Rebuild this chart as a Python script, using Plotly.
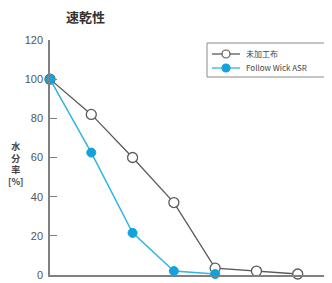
import plotly.graph_objects as go

x_vals = [0, 1, 2, 3, 4, 5, 6]
untreated = [100, 82, 60, 37, 3.5, 2, 0.5]
x_wick = [0, 1, 2, 3, 4]
follow_wick = [100, 62.5, 21.5, 2, 0.5]
y_ticks = [0, 20, 40, 60, 80, 100, 120]
series_names = ["未加工布", "Follow Wick ASR"]

GRAY = "#5a5a5a"
BLUE_LINE = "#30b6e2"
BLUE_MK = "#12a3dc"

# page body has an 8px margin, so the figure is drawn in coordinates shifted by 8px
OFF = 8
W, H = 332 - OFF, 283 - OFF
l, r, t, b = 50 - OFF, 0, 40 - OFF, 8
pw, ph = W - l - r, H - t - b
def px(xs): return (xs - OFF - l) / pw
def py(ys): return (H - b - (ys - OFF)) / ph

fig = go.Figure()
fig.add_trace(go.Scatter(
    x=x_vals, y=untreated, name=series_names[0], mode="lines+markers",
    line=dict(color=GRAY, width=1.3),
    marker=dict(symbol="circle", size=10, color="white", line=dict(color=GRAY, width=1.3)),
    cliponaxis=False, showlegend=False))
fig.add_trace(go.Scatter(
    x=x_wick, y=follow_wick, name=series_names[1], mode="lines+markers",
    line=dict(color=BLUE_LINE, width=1.5),
    marker=dict(symbol="circle", size=9, color=BLUE_MK, line=dict(color=BLUE_MK, width=1)),
    cliponaxis=False, showlegend=False))

shapes = [
    # legend box
    dict(type="rect", xref="paper", yref="paper", x0=px(207), x1=px(327), y0=py(77), y1=py(43),
         line=dict(color="#8a8a8a", width=1), fillcolor="white", layer="above"),
]
annotations = []
for i, (name, lc, mfill, mline) in enumerate([
        (series_names[0], GRAY, "white", GRAY),
        (series_names[1], BLUE_LINE, BLUE_MK, BLUE_MK)]):
    ys = 54 + i * 14
    shapes.append(dict(type="line", xref="paper", yref="paper", x0=px(212), x1=px(240),
                       y0=py(ys), y1=py(ys), line=dict(color=lc, width=1.3), layer="above"))
    shapes.append(dict(type="circle", xref="paper", yref="paper", xsizemode="pixel", ysizemode="pixel",
                       xanchor=px(226), yanchor=py(ys), x0=-4, x1=4, y0=-4, y1=4,
                       fillcolor=mfill, line=dict(color=mline, width=1.2), layer="above"))
    annotations.append(dict(text=name, x=px(244), y=py(ys), xref="paper", yref="paper",
                            xanchor="left", yanchor="middle", showarrow=False,
                            font=dict(size=8, color="#444444")))

annotations += [
    dict(text="<b>速乾性</b>", x=px(85), y=py(16), xref="paper", yref="paper",
         xanchor="center", yanchor="middle",
         showarrow=False, font=dict(size=13, color="#333333")),
    dict(text="<b>水<br>分<br>率<br>[%]</b>", x=px(15), y=py(164), xref="paper", yref="paper",
         xanchor="center", yanchor="middle", showarrow=False,
         font=dict(size=9, color="#444444")),
]

font = "Noto Sans CJK JP, Noto Sans, sans-serif"
fig.update_layout(
    width=W, height=H,
    margin=dict(l=l, r=r, t=t, b=b, autoexpand=False),
    paper_bgcolor="white", plot_bgcolor="white",
    font=dict(family=font, color="#444444"),
    showlegend=False,
    xaxis=dict(range=[0, 6.83], showgrid=False, zeroline=False, automargin=False,
               showline=True, linecolor="#808080", linewidth=1.5,
               showticklabels=False, ticks=""),
    yaxis=dict(range=[0, 120], tickvals=y_ticks, showgrid=False, zeroline=False,
               automargin=False,
               showline=True, linecolor="#808080", linewidth=1.5,
               ticks="inside", ticklen=7, tickcolor="#808080", tickwidth=1.3,
               tickfont=dict(size=11, color="#555555", family="Liberation Sans, Arial, sans-serif"),
               tickprefix="<b>", ticksuffix="</b>",
               ticklabelstandoff=3),
    shapes=shapes,
    annotations=annotations,
)

fig.write_html("out.html")
